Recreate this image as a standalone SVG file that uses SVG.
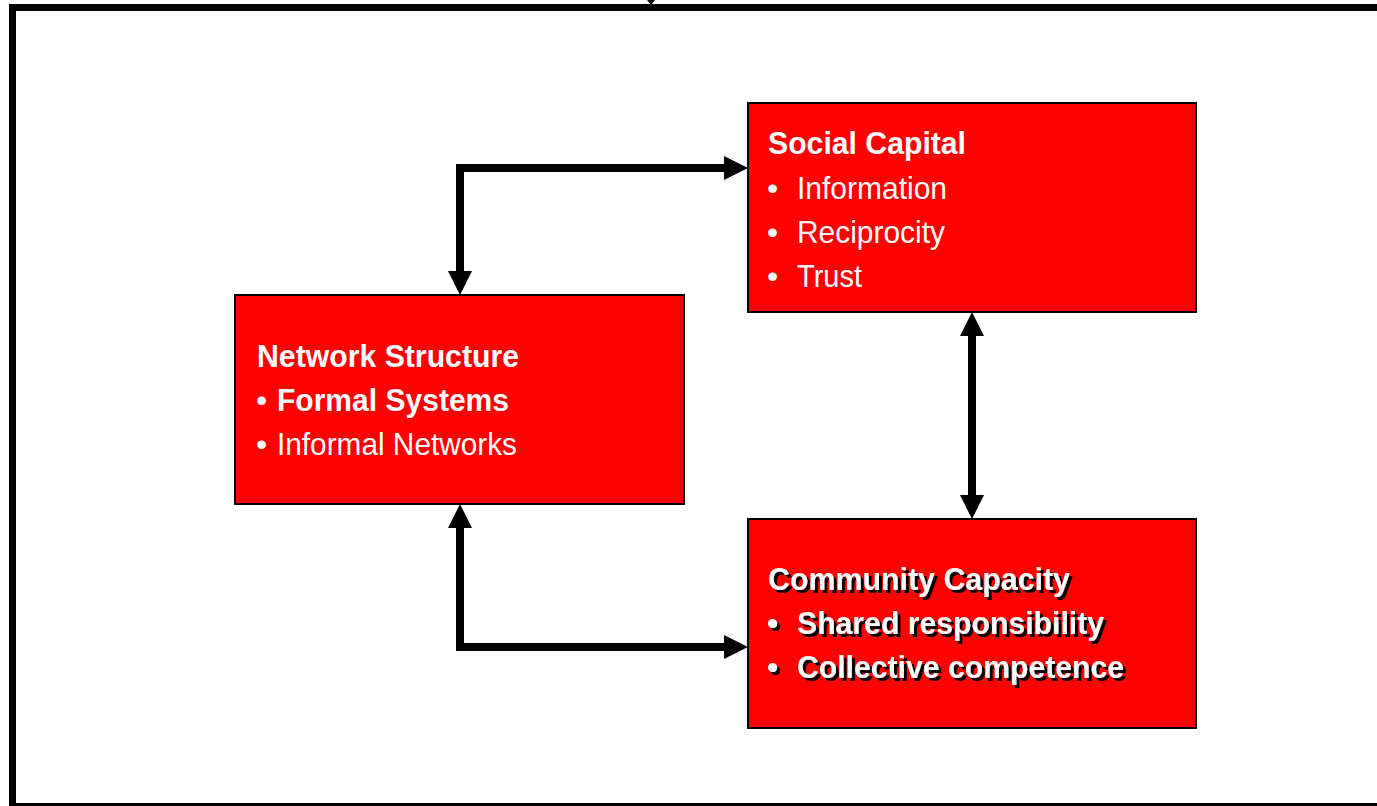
<svg xmlns="http://www.w3.org/2000/svg" width="1377" height="806" viewBox="0 0 1377 806">
<style>
.box{fill:#ff0000;stroke:#000;stroke-width:2}
.t{font-family:"Liberation Sans",Arial,sans-serif;font-size:32px;fill:#fff}
.b{font-weight:bold}
.shadowed{filter:url(#tshadow)}
.conn{fill:none;stroke:#000;stroke-width:8;stroke-linejoin:miter;stroke-linecap:butt}
</style>
<defs>
<marker id="ah" markerUnits="userSpaceOnUse" markerWidth="24" markerHeight="24" viewBox="0 -12 24 24" refX="0" refY="0" orient="auto-start-reverse" overflow="visible">
<path d="M0,-12 L24,0 L0,12 z" fill="#000"/>
</marker>
<filter id="tshadow" x="-5%" y="-20%" width="115%" height="150%">
<feDropShadow dx="3" dy="3" stdDeviation="0.4" flood-color="#000" flood-opacity="1"/>
</filter>
</defs>
<rect x="0" y="0" width="1377" height="806" fill="#fff"/>
<g id="frame">
<rect x="12.5" y="7.5" width="1380" height="799" fill="none" stroke="#000" stroke-width="7"/>
<polygon points="647,0 655,0 651,5" fill="#000"/>
</g>
<g id="connectors">
<path class="conn" d="M460,271 L460,168 L724,168" marker-start="url(#ah)" marker-end="url(#ah)"/>
<path class="conn" d="M972,336 L972,495" marker-start="url(#ah)" marker-end="url(#ah)"/>
<path class="conn" d="M460,528 L460,647 L724,647" marker-start="url(#ah)" marker-end="url(#ah)"/>
</g>
<g id="social-capital">
<rect class="box" x="748" y="103" width="448" height="209"/>
<text class="t b" x="768" y="154" textLength="198" lengthAdjust="spacingAndGlyphs">Social Capital</text>
<text class="t" x="767" y="199">•</text>
<text class="t" x="797" y="199" textLength="150" lengthAdjust="spacingAndGlyphs">Information</text>
<text class="t" x="767" y="243">•</text>
<text class="t" x="797" y="243" textLength="148" lengthAdjust="spacingAndGlyphs">Reciprocity</text>
<text class="t" x="767" y="287">•</text>
<text class="t" x="797" y="287" textLength="65" lengthAdjust="spacingAndGlyphs">Trust</text>
</g>
<g id="network-structure">
<rect class="box" x="235" y="295" width="449" height="209"/>
<text class="t b" x="257" y="367" textLength="262" lengthAdjust="spacingAndGlyphs">Network Structure</text>
<text class="t" x="256" y="411">•</text>
<text class="t b" x="277" y="411" textLength="232" lengthAdjust="spacingAndGlyphs">Formal Systems</text>
<text class="t" x="256" y="455">•</text>
<text class="t" x="277" y="455" textLength="240" lengthAdjust="spacingAndGlyphs">Informal Networks</text>
</g>
<g id="community-capacity">
<rect class="box" x="748" y="519" width="448" height="209"/>
<g class="shadowed">
<text class="t b" x="768" y="590" textLength="302" lengthAdjust="spacingAndGlyphs">Community Capacity</text>
<text class="t b" x="767" y="634">•</text>
<text class="t b" x="797" y="634" textLength="307" lengthAdjust="spacingAndGlyphs">Shared responsibility</text>
<text class="t b" x="767" y="678">•</text>
<text class="t b" x="797" y="678" textLength="327" lengthAdjust="spacingAndGlyphs">Collective competence</text>
</g>
</g>
</svg>
